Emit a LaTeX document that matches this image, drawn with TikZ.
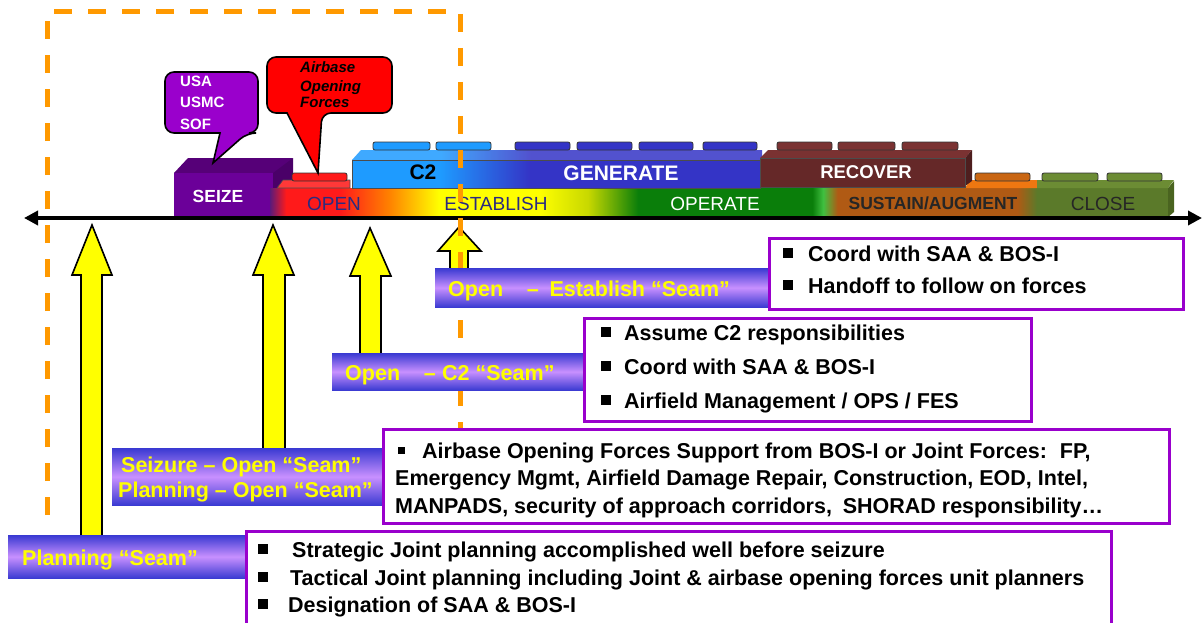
\documentclass[tikz,border=0pt]{standalone}
\usepackage{fontspec}
\setmainfont{Liberation Sans}
\usetikzlibrary{arrows.meta}
\definecolor{ora}{HTML}{FF9900}
\definecolor{seizeC}{HTML}{6B0099}
\definecolor{seizeT}{HTML}{560078}
\definecolor{seizeS}{HTML}{4A0068}
\definecolor{callP}{HTML}{9A00CC}
\definecolor{c2b}{HTML}{1E9BFF}
\definecolor{genb}{HTML}{3434C6}
\definecolor{recC}{HTML}{652828}
\definecolor{recT}{HTML}{7A3232}
\definecolor{recS}{HTML}{4E1E1E}
\definecolor{susC}{HTML}{B05A14}
\definecolor{susT}{HTML}{EE7711}
\definecolor{closeC}{HTML}{5B7A2A}
\definecolor{closeT}{HTML}{6C8C34}
\definecolor{closeS}{HTML}{4A6420}
\definecolor{redC}{HTML}{FF1A1A}
\definecolor{redT}{HTML}{FF3838}
\definecolor{navy}{HTML}{2B2B80}
\definecolor{boxP}{HTML}{9900CC}
\definecolor{seamB}{HTML}{3A3AD2}
\definecolor{seamL}{HTML}{C890FF}
\definecolor{yel}{HTML}{FFFF00}
\definecolor{bandP}{HTML}{5A1A7A}
\definecolor{bandO}{HTML}{FF8000}
\definecolor{bandYG}{HTML}{C8D800}
\definecolor{bandG}{HTML}{0A7E0A}
\definecolor{bandLG}{HTML}{40C040}
\pgfdeclarehorizontalshading{bandsh}{100bp}{color(0bp)=(bandP); color(25bp)=(bandP); color(25.9bp)=(redC); color(28.9bp)=(redC); color(31.6bp)=(bandO); color(34.4bp)=(yel); color(40bp)=(yel); color(42.7bp)=(bandYG); color(45.5bp)=(bandG); color(55.2bp)=(bandG); color(55.8bp)=(bandLG); color(56.6bp)=(susC); color(66.6bp)=(susC); color(67.7bp)=(closeC); color(75bp)=(closeC); color(100bp)=(closeC)}
\pgfdeclarehorizontalshading{gensh}{100bp}{color(0bp)=(c2b); color(25bp)=(c2b); color(35.8bp)=(c2b); color(46.8bp)=(genb); color(75bp)=(genb); color(100bp)=(genb)}
\newcommand\fs[1]{\fontsize{#1}{#1}\selectfont}
\newcommand\bsq{\rule[2.7pt]{10pt}{10pt}}
\newcommand\ssq{\rule[4pt]{7pt}{7pt}}
\begin{document}
\begin{tikzpicture}[x=1pt,y=-1pt,
  boxst/.style={draw=boxP, line width=2.5pt, fill=white, anchor=north west, inner sep=0pt},
  seam/.style={top color=seamB, bottom color=seamB, middle color=seamL, anchor=north west, inner sep=0pt},
  seamtxt/.style={text=yel, font=\bfseries\fs{21.5}, anchor=base west, inner sep=0pt},
  btxt/.style={font=\bfseries\fs{21.5}, anchor=base west, inner sep=0pt},
  band/.style={font=\fs{19}, anchor=base, inner sep=0pt},
  bandb/.style={font=\bfseries\fs{19}, anchor=base, inner sep=0pt},
  stud/.style={draw=black!80, line width=0.8pt, rounded corners=2pt},
  face/.style={draw=black!70, line width=0.6pt},
  yarrow/.style={fill=yel, draw=black, line width=1.6pt, line join=miter},
  dashline/.style={draw=ora, line width=5pt, dash pattern=on 18pt off 16pt},
  callout/.style={draw=black, line width=1.6pt},
  calltxt/.style={font=\bfseries\fs{15}, anchor=base west, inner sep=0pt},
  axisline/.style={line width=4pt, {Triangle[length=14pt,width=14pt]}-{Triangle[length=14pt,width=14pt]}}
]
\useasboundingbox (0,0) rectangle (1204,623);

% SEIZE block
\fill[seizeT] (174,173) -- (188,158) -- (293,158) -- (281,173) -- cycle;
\fill[seizeS] (273,173) -- (293,158) -- (293,205) -- (273,217) -- cycle;
\fill[seizeC] (174,173) rectangle (273,217);

% lower band
\shade[shading=bandsh] (270,188) rectangle (1168,217);
\fill[closeS] (1168,188) -- (1174,181) -- (1174,212) -- (1168,217) -- cycle;
\fill[redT, face] (277,188) -- (283,180) -- (350,180) -- (350,188) -- cycle;
\draw[stud, fill=redC] (292,173) rectangle (347,181);
\fill[susT] (965,188) -- (970,180) -- (1037,180) -- (1037,188) -- cycle;
\draw[stud, fill=susC!60!susT] (975,173) rectangle (1030,181);
\fill[closeT] (1037,188) -- (1037,180) -- (1174,180) -- (1168,188) -- cycle;
\draw[stud, fill=closeT] (1042,173) rectangle (1098,181);
\draw[stud, fill=closeT] (1107,173) rectangle (1162,181);

% C2 / GENERATE brick
\shade[shading=gensh] (352,160) -- (361,150) -- (762,150) -- (762,160) -- cycle;
\fill[white, opacity=0.15] (352,160) -- (361,150) -- (762,150) -- (762,160) -- cycle;
\shade[shading=gensh, face] (352,160) rectangle (760,188);
\draw[stud, fill=c2b] (373,142) rectangle (430,150);
\draw[stud, fill=c2b] (436,142) rectangle (491,150);
\draw[stud, fill=genb] (515,142) rectangle (570,150);
\draw[stud, fill=genb] (577,142) rectangle (632,150);
\draw[stud, fill=genb] (639,142) rectangle (693,150);
\draw[stud, fill=genb] (703,142) rectangle (757,150);

% RECOVER brick
\fill[recT] (760,158) -- (768,150) -- (972,150) -- (965,158) -- cycle;
\fill[recS] (965,158) -- (972,150) -- (972,181) -- (965,186) -- cycle;
\fill[recC, face] (760,158) rectangle (965,187);
\draw[stud, fill=recT] (777,142) rectangle (832,150);
\draw[stud, fill=recT] (838,142) rectangle (895,150);
\draw[stud, fill=recT] (902,142) rectangle (958,150);

% band labels
\node[bandb, text=white, font=\bfseries\fs{17.5}] (lseize) at (218,202) {SEIZE};
\node[band, text=navy] (lopen) at (334,210) {OPEN};
\node[bandb, font=\bfseries\fs{21}] (lc2) at (423,179.5) {C2};
\node[bandb, text=white, font=\bfseries\fs{21}] (lgen) at (621,180) {GENERATE};
\node[band, text=navy] (lest) at (496,210) {ESTABLISH};
\node[band, text=white] (lop) at (715,210) {OPERATE};
\node[bandb, text=white, font=\bfseries\fs{18.5}] (lrec) at (866,178) {RECOVER};
\node[bandb, text=black!85, font=\bfseries\fs{17.5}] (lsus) at (933,209) {SUSTAIN/AUGMENT};
\node[band, text=black!85] (lclose) at (1103,210) {CLOSE};

% axis
\coordinate (axL) at (24,218);
\coordinate (axR) at (1202,218);
\draw[axisline] (axL) -- (axR);

% yellow arrows
\draw[yarrow] (81,545) -- (81,275) -- (72,275) -- (92,225) -- (112,275) -- (102,275) -- (102,545) -- cycle;
\draw[yarrow] (263,452) -- (263,275) -- (253,275) -- (273,225) -- (294,275) -- (285,275) -- (285,452) -- cycle;
\draw[yarrow] (360,357) -- (360,276) -- (350,276) -- (370,228) -- (391,276) -- (381,276) -- (381,357) -- cycle;
\draw[yarrow] (450,270) -- (450,251) -- (438,251) -- (459,227) -- (481,251) -- (468,251) -- (468,270) -- cycle;

% dashed frame
\draw[dashline] (47,515) -- (47,12) -- (460,12) -- (460,430);

% callouts
\filldraw[callout, fill=callP] [rounded corners=9pt] (165,100) |- (258,72) |- (247,133) [sharp corners] -- (213,163) -- (220,133) [rounded corners=9pt] -| (165,100) -- cycle;
\node[calltxt, text=white] (cu1) at (180,87) {USA};
\node[calltxt, text=white] (cu2) at (180,108) {USMC};
\node[calltxt, text=white] (cu3) at (180,130) {SOF};
\filldraw[callout, fill=red] [rounded corners=9pt] (267,85) |- (392,57) |- (322,113) [sharp corners] -- (318,173) -- (287,113) [rounded corners=9pt] -| (267,85) -- cycle;
\node[calltxt, font=\bfseries\itshape\fs{15}] (ca1) at (300,73) {Airbase};
\node[calltxt, font=\bfseries\itshape\fs{15}] (ca2) at (300,92) {Opening};
\node[calltxt, font=\bfseries\itshape\fs{15}] (ca3) at (300,108) {Forces};

% seam labels
\node[seam, minimum width=340pt, minimum height=39pt] (s1) at (435,268) {};
\node[seamtxt] (s1t) at (448,296) {Open\hspace{1.1em}–\hspace{0.5em}Establish “Seam”};
\node[seam, minimum width=258pt, minimum height=37pt] (s2) at (332,353) {};
\node[seamtxt] (s2t) at (345,380) {Open\hspace{1.1em}–\hspace{0.3em}C2 “Seam”};
\node[seam, minimum width=273pt, minimum height=57pt] (s3) at (112,448) {};
\node[seamtxt] (s3a) at (121,472) {Seizure – Open “Seam”};
\node[seamtxt] (s3b) at (118,497) {Planning – Open “Seam”};
\node[seam, minimum width=242pt, minimum height=43pt] (s4) at (8,535) {};
\node[seamtxt] (s4t) at (22,565) {Planning “Seam”};

% boxes
\node[boxst, minimum width=414pt, minimum height=71pt] (box1) at (768,237) {};
\node[btxt] (b1a) at (783,261) {\bsq\hspace{15pt}Coord with SAA \& BOS-I};
\node[btxt] (b1b) at (783,293) {\bsq\hspace{15pt}Handoff to follow on forces};

\node[boxst, minimum width=447pt, minimum height=103pt] (box2) at (583,317) {};
\node[btxt] (b2a) at (601,340) {\bsq\hspace{13pt}Assume C2 responsibilities};
\node[btxt] (b2b) at (601,374) {\bsq\hspace{13pt}Coord with SAA \& BOS-I};
\node[btxt] (b2c) at (601,408) {\bsq\hspace{13pt}Airfield Management / OPS / FES};

\node[boxst, minimum width=786pt, minimum height=94pt] (box3) at (382,428) {};
\node[btxt] (b3a) at (398,458) {\ssq\hspace{17pt}Airbase Opening Forces Support from BOS-I or Joint Forces:\hspace{0.6em}FP,};
\node[btxt] (b3b) at (395,485) {Emergency Mgmt, Airfield Damage Repair, Construction, EOD, Intel,};
\node[btxt] (b3c) at (395,513) {MANPADS, security of approach corridors,\hspace{0.5em}SHORAD responsibility…};

\node[boxst, minimum width=865pt, minimum height=100pt] (box4) at (245,530) {};
\node[btxt] (b4a) at (258,557) {\bsq\hspace{24pt}Strategic Joint planning accomplished well before seizure};
\node[btxt] (b4b) at (258,585) {\bsq\hspace{22pt}Tactical Joint planning including Joint \& airbase opening forces unit planners};
\node[btxt] (b4c) at (258,612) {\bsq\hspace{20pt}Designation of SAA \& BOS-I};
\end{tikzpicture}
\end{document}
